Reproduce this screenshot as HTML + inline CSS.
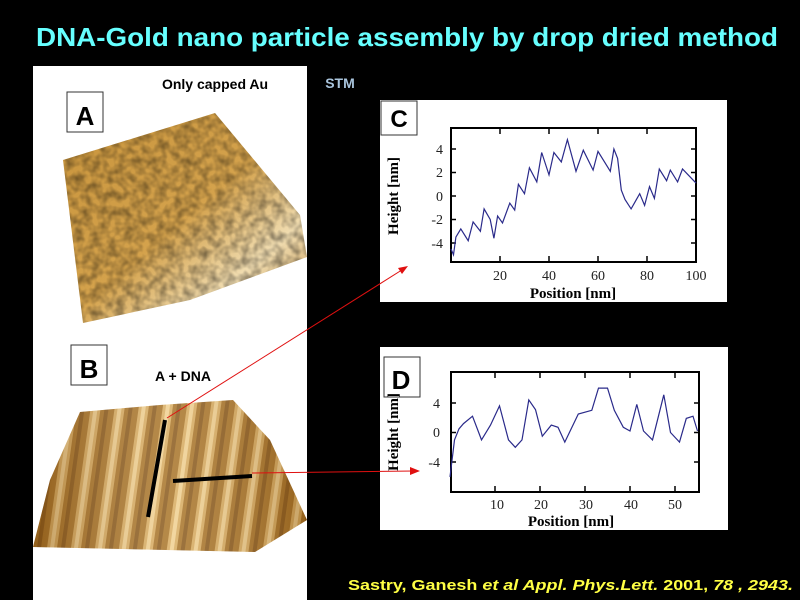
<!DOCTYPE html>
<html><head><style>html,body{margin:0;padding:0;background:#000;}svg{display:block}</style></head>
<body>
<svg width="800" height="600" viewBox="0 0 800 600" xmlns="http://www.w3.org/2000/svg">
<defs>
<filter id="noiseA" x="0" y="0" width="100%" height="100%">
<feTurbulence type="fractalNoise" baseFrequency="0.12" numOctaves="2" seed="3" result="t"/>
<feColorMatrix in="t" type="matrix" values="0 0 0 0 0  0 0 0 0 0  0 0 0 0 0  0 0 0 -1.6 1.1" result="a"/>
<feComposite in="a" in2="SourceGraphic" operator="in"/>
</filter>
<linearGradient id="gA" x1="0" y1="0" x2="1" y2="1">
<stop offset="0" stop-color="#c8943c"/><stop offset="0.5" stop-color="#d4a24c"/><stop offset="0.75" stop-color="#f0dcb0"/><stop offset="1" stop-color="#c09048"/>
</linearGradient>
<pattern id="stripes" patternUnits="userSpaceOnUse" x="0" y="0" width="24" height="200" patternTransform="skewX(-8)">
<rect width="24" height="200" fill="#a87428"/>
<rect x="4" width="10" height="200" fill="#d8ac60"/>
<rect x="7" width="4" height="200" fill="#f0d090"/>
<rect x="18" width="4" height="200" fill="#8a5a1c"/>
</pattern>
<linearGradient id="gB2" x1="0" y1="0" x2="1" y2="0">
<stop offset="0" stop-color="#6a3800" stop-opacity="0.35"/><stop offset="0.5" stop-color="#fff" stop-opacity="0.15"/><stop offset="1" stop-color="#6a3800" stop-opacity="0.3"/>
</linearGradient>
</defs>
<text x="407" y="46" text-anchor="middle" font-family="Liberation Sans Narrow, Liberation Sans, sans-serif" font-weight="bold" font-size="26" fill="#66ffff" textLength="742" lengthAdjust="spacingAndGlyphs">DNA-Gold nano particle assembly by drop dried method</text>
<rect x="33" y="66" width="274" height="534" fill="#fff"/>
<text x="215" y="89" text-anchor="middle" font-family="Liberation Sans, sans-serif" font-weight="bold" font-size="14" fill="#000">Only capped Au</text>
<text x="340" y="88" text-anchor="middle" font-family="Liberation Sans, sans-serif" font-weight="bold" font-size="14" fill="#a9c4dc">STM</text>
<rect x="67" y="92" width="36" height="40" fill="#fff" stroke="#333"/>
<text x="85" y="125" text-anchor="middle" font-family="Liberation Sans, sans-serif" font-weight="bold" font-size="26" fill="#000">A</text>
<polygon points="63,160 215,113 300,215 307,257 190,300 83,323" fill="url(#gA)"/>
<polygon points="63,160 215,113 300,215 307,257 190,300 83,323" fill="#7a4808" filter="url(#noiseA)" opacity="0.45"/>
<rect x="71" y="345" width="36" height="40" fill="#fff" stroke="#333"/>
<text x="89" y="378" text-anchor="middle" font-family="Liberation Sans, sans-serif" font-weight="bold" font-size="26" fill="#000">B</text>
<text x="183" y="381" text-anchor="middle" font-family="Liberation Sans, sans-serif" font-weight="bold" font-size="14" fill="#000">A + DNA</text>
<polygon points="80,412 160,405 233,400 270,440 307,520 255,552 33,547 50,480" fill="url(#stripes)"/>
<polygon points="80,412 160,405 233,400 270,440 307,520 255,552 33,547 50,480" fill="url(#gB2)"/>
<line x1="148" y1="517" x2="165" y2="420" stroke="#000" stroke-width="4"/>
<line x1="173" y1="481" x2="252" y2="476" stroke="#000" stroke-width="4"/>
<!-- Chart C -->
<rect x="380" y="100" width="347" height="202" fill="#fff"/>
<rect x="381" y="101" width="36" height="34" fill="#fff" stroke="#333"/>
<text x="399" y="127" text-anchor="middle" font-family="Liberation Sans, sans-serif" font-weight="bold" font-size="24" fill="#000">C</text>
<rect x="451" y="128" width="245" height="134" fill="none" stroke="#000" stroke-width="2"/>
<g stroke="#000" stroke-width="1.5">
<line x1="500" y1="262" x2="500" y2="256"/><line x1="549" y1="262" x2="549" y2="256"/><line x1="598" y1="262" x2="598" y2="256"/><line x1="647" y1="262" x2="647" y2="256"/>
<line x1="500" y1="128" x2="500" y2="134"/><line x1="549" y1="128" x2="549" y2="134"/><line x1="598" y1="128" x2="598" y2="134"/><line x1="647" y1="128" x2="647" y2="134"/>
<line x1="451" y1="149" x2="456" y2="149"/><line x1="451" y1="172.5" x2="456" y2="172.5"/><line x1="451" y1="196" x2="456" y2="196"/><line x1="451" y1="219.5" x2="456" y2="219.5"/><line x1="451" y1="243" x2="456" y2="243"/>
<line x1="696" y1="149" x2="691" y2="149"/><line x1="696" y1="172.5" x2="691" y2="172.5"/><line x1="696" y1="196" x2="691" y2="196"/><line x1="696" y1="219.5" x2="691" y2="219.5"/><line x1="696" y1="243" x2="691" y2="243"/>
</g>
<g font-family="Liberation Serif, serif" font-size="14" fill="#222" text-anchor="end">
<text x="443" y="154">4</text><text x="443" y="177">2</text><text x="443" y="201">0</text><text x="443" y="224">-2</text><text x="443" y="248">-4</text>
</g>
<g font-family="Liberation Serif, serif" font-size="14" fill="#222" text-anchor="middle">
<text x="500" y="280">20</text><text x="549" y="280">40</text><text x="598" y="280">60</text><text x="647" y="280">80</text><text x="696" y="280">100</text>
</g>
<text x="573" y="298" text-anchor="middle" font-family="Liberation Serif, serif" font-weight="bold" font-size="15" fill="#000">Position [nm]</text>
<text transform="translate(398,196) rotate(-90)" text-anchor="middle" font-family="Liberation Serif, serif" font-weight="bold" font-size="15" fill="#000">Height [nm]</text>
<polyline fill="none" stroke="#2a2a8a" stroke-width="1.2" points="451,248.9 453.5,254.8 455.9,237.1 460.8,228.9 468.2,240.7 473.1,221.9 480.4,231.3 484.1,208.9 490.2,219.5 493.9,238.3 497.6,216 502.5,223 509.8,203.1 514.7,210.1 518.4,184.3 524.5,193.7 529.4,167.8 536.8,181.9 541.7,152.5 549,174.9 553.9,152.5 561.3,161.9 567.4,139.6 576,171.3 583.3,150.2 593.1,170.1 598,151.4 610.3,171.3 613.9,149 617.6,158.4 621.3,190.1 625,199.5 631.1,208.9 639.7,193.7 644.6,205.4 649.5,186.6 654.4,198.4 659.3,169 666.6,180.7 670.3,170.1 677.6,181.9 682.5,169 696,183.1"/>
<!-- Chart D -->
<rect x="380" y="347" width="348" height="183" fill="#fff"/>
<rect x="451" y="372" width="248" height="120" fill="none" stroke="#000" stroke-width="2"/>
<g stroke="#000" stroke-width="1.5">
<line x1="495" y1="492" x2="495" y2="486"/><line x1="540" y1="492" x2="540" y2="486"/><line x1="585" y1="492" x2="585" y2="486"/><line x1="630" y1="492" x2="630" y2="486"/><line x1="675" y1="492" x2="675" y2="486"/>
<line x1="495" y1="372" x2="495" y2="378"/><line x1="540" y1="372" x2="540" y2="378"/><line x1="585" y1="372" x2="585" y2="378"/><line x1="630" y1="372" x2="630" y2="378"/><line x1="675" y1="372" x2="675" y2="378"/>
<line x1="451" y1="403" x2="456" y2="403"/><line x1="451" y1="432.5" x2="456" y2="432.5"/><line x1="451" y1="462" x2="456" y2="462"/>
<line x1="699" y1="403" x2="694" y2="403"/><line x1="699" y1="432.5" x2="694" y2="432.5"/><line x1="699" y1="462" x2="694" y2="462"/>
</g>
<g font-family="Liberation Serif, serif" font-size="14" fill="#222" text-anchor="end">
<text x="440" y="408">4</text><text x="440" y="437">0</text><text x="440" y="467">-4</text>
</g>
<g font-family="Liberation Serif, serif" font-size="14" fill="#222" text-anchor="middle">
<text x="497" y="509">10</text><text x="541" y="509">20</text><text x="586" y="509">30</text><text x="631" y="509">40</text><text x="675" y="509">50</text>
</g>
<text x="571" y="526" text-anchor="middle" font-family="Liberation Serif, serif" font-weight="bold" font-size="15" fill="#000">Position [nm]</text>
<text transform="translate(398,432) rotate(-90)" text-anchor="middle" font-family="Liberation Serif, serif" font-weight="bold" font-size="15" fill="#000">Height [nm]</text>
<rect x="384" y="357" width="36" height="40" fill="none" stroke="#333"/>
<text x="401" y="389" text-anchor="middle" font-family="Liberation Sans, sans-serif" font-weight="bold" font-size="26" fill="#000">D</text>
<polyline fill="none" stroke="#2a2a8a" stroke-width="1.2" points="450,476.9 454.5,439.9 459,428.8 463.5,423.6 472.5,416.2 481.5,439.9 490.5,425.1 499.5,405.9 508.5,439.9 515.3,447.3 522,439.9 528.8,399.9 535.5,409.6 542.3,436.2 551.3,425.1 558,427.3 564.8,442.1 578.3,414 591.8,410.3 598.5,388.1 607.5,388.1 614.3,410.3 623.3,427.3 630,431 636.8,404.4 643.5,431 652.5,439.9 663.8,394.8 670.5,432.5 679.5,442.1 686.3,418.4 693,416.2 697.5,431"/>
<!-- red arrows -->
<line x1="167" y1="418" x2="405" y2="268" stroke="#e01010" stroke-width="1"/>
<polygon points="408,266 398,268 402,274" fill="#e01010"/>
<line x1="252" y1="473" x2="414" y2="471" stroke="#e01010" stroke-width="1"/>
<polygon points="420,471 410,467 410,475" fill="#e01010"/>
<text x="348" y="590" font-family="Liberation Sans, sans-serif" font-weight="bold" font-size="15" fill="#ffff44" textLength="445" lengthAdjust="spacingAndGlyphs">Sastry, Ganesh <tspan font-style="italic">et al Appl. Phys.Lett.</tspan> 2001, <tspan font-style="italic">78 , 2943.</tspan></text>
</svg>
</body></html>
